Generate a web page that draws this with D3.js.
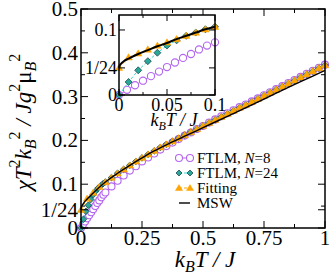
<!DOCTYPE html>
<html>
<head>
<meta charset="utf-8">
<script src="https://cdn.jsdelivr.net/npm/d3@7"></script>
</head>
<body style="margin:0; background:#fff">
<svg width="332" height="277"></svg>
<script>
// ---- main panel data ----
var n8T = [0, 0.0083, 0.0167, 0.025, 0.0333, 0.0417, 0.05, 0.0583, 0.0667, 0.075, 0.0833, 0.0917, 0.1,
           0.125, 0.15, 0.175, 0.2, 0.225, 0.25, 0.275, 0.3, 0.325, 0.35, 0.375, 0.4, 0.425, 0.45, 0.475, 0.5,
           0.525, 0.55, 0.575, 0.6, 0.625, 0.65, 0.675, 0.7, 0.725, 0.75, 0.775, 0.8, 0.825, 0.85, 0.875, 0.9,
           0.925, 0.95, 0.975, 1];
var n8V = [0, 0.008, 0.015, 0.022, 0.029, 0.036, 0.043, 0.050, 0.057, 0.063, 0.070, 0.076, 0.081,
           0.095, 0.108, 0.120, 0.131, 0.141, 0.152, 0.161, 0.170, 0.179, 0.187, 0.195, 0.203, 0.211, 0.218, 0.226, 0.233,
           0.241, 0.248, 0.255, 0.262, 0.269, 0.276, 0.282, 0.289, 0.296, 0.303, 0.310, 0.317, 0.324, 0.331, 0.338, 0.345,
           0.352, 0.359, 0.366, 0.373];

var n24T = [0, 0.01, 0.02, 0.03, 0.04, 0.05, 0.06, 0.07, 0.08, 0.09, 0.1,
            0.125, 0.15, 0.175, 0.2, 0.225, 0.25, 0.275, 0.3, 0.325, 0.35, 0.375, 0.4, 0.425, 0.45, 0.475, 0.5,
            0.525, 0.55, 0.575, 0.6, 0.625, 0.65, 0.675, 0.7, 0.725, 0.75, 0.775, 0.8, 0.825, 0.85, 0.875, 0.9,
            0.925, 0.95, 0.975, 1];
var n24V = [0, 0.020, 0.038, 0.052, 0.065, 0.076, 0.084, 0.091, 0.096, 0.101, 0.105,
            0.115, 0.125, 0.134, 0.143, 0.152, 0.160, 0.168, 0.176, 0.184, 0.191, 0.198, 0.205, 0.212, 0.219, 0.226, 0.233,
            0.240, 0.247, 0.254, 0.261, 0.268, 0.275, 0.281, 0.288, 0.295, 0.302, 0.309, 0.316, 0.323, 0.330, 0.337, 0.344,
            0.351, 0.358, 0.365, 0.372];

var fitT = [0, 0.025, 0.05, 0.075, 0.1, 0.125, 0.15, 0.175, 0.2, 0.225, 0.25, 0.275, 0.3, 0.325, 0.35, 0.375, 0.4,
            0.425, 0.45, 0.475, 0.5, 0.525, 0.55, 0.575, 0.6, 0.625, 0.65, 0.675, 0.7, 0.725, 0.75, 0.775, 0.8,
            0.825, 0.85, 0.875, 0.9, 0.925, 0.95, 0.975, 1];
var fitV = [0.0417, 0.067, 0.081, 0.094, 0.105, 0.115, 0.125, 0.134, 0.143, 0.152, 0.160, 0.168, 0.176, 0.184, 0.191, 0.198, 0.205,
            0.212, 0.219, 0.226, 0.233, 0.240, 0.247, 0.254, 0.261, 0.268, 0.275, 0.281, 0.288, 0.295, 0.302, 0.309, 0.316,
            0.323, 0.330, 0.337, 0.344, 0.351, 0.358, 0.365, 0.372];

var mswT = [0, 0.002, 0.005, 0.01, 0.02, 0.03, 0.05, 0.075, 0.1, 0.15, 0.2, 0.25, 0.3, 0.35, 0.4, 0.45, 0.5, 0.6, 0.7, 0.8, 0.9, 1];
var mswV = [0.0417, 0.048, 0.052, 0.056, 0.063, 0.069, 0.080, 0.093, 0.105, 0.125, 0.143, 0.160, 0.176, 0.190, 0.203, 0.216, 0.229, 0.255, 0.281, 0.308, 0.334, 0.360];

// ---- inset data (kBT/J <= 0.1) ----
var inN8T = [0, 0.0083, 0.0167, 0.025, 0.0333, 0.0417, 0.05, 0.0583, 0.0667, 0.075, 0.0833, 0.0917, 0.1];
var inN8V = [0, 0.008, 0.015, 0.022, 0.029, 0.036, 0.043, 0.050, 0.057, 0.063, 0.070, 0.076, 0.081];
var inT = [0, 0.01, 0.02, 0.03, 0.04, 0.05, 0.06, 0.07, 0.08, 0.09, 0.1];
var inN24V = [0, 0.020, 0.038, 0.052, 0.065, 0.076, 0.084, 0.091, 0.096, 0.101, 0.105];
var inFitV = [0.0417, 0.058, 0.064, 0.070, 0.076, 0.081, 0.086, 0.091, 0.096, 0.101, 0.105];
var inMswT = [0, 0.001, 0.002, 0.005, 0.01, 0.02, 0.03, 0.04, 0.05, 0.06, 0.07, 0.08, 0.09, 0.1];
var inMswV = [0.0417, 0.046, 0.048, 0.052, 0.056, 0.063, 0.069, 0.075, 0.080, 0.086, 0.091, 0.096, 0.101, 0.105];

// ---- ticks ----
var xMajor = [0, 0.25, 0.5, 0.75, 1];
var xLabels = ['0', '0.25', '0.5', '0.75', '1'];
var xMinor = [0.125, 0.375, 0.625, 0.875];
var yMajor = [0, 1/24, 0.1, 0.2, 0.3, 0.4, 0.5];
var yLabels = ['0', '1/24', '0.1', '0.2', '0.3', '0.4', '0.5'];
var yMinor = [0.05, 0.15, 0.25, 0.35, 0.45];
var ixMajor = [0, 0.05, 0.1];
var ixLabels = ['0', '0.05', '0.1'];
var ixMinor = [0.025, 0.075];
var iyMajor = [0, 1/24, 0.1];
var iyLabels = ['0', '1/24', '0.1'];

var legendNames = ['FTLM, ', 'FTLM, ', 'Fitting', 'MSW'];
var legendN = ['8', '24', '', ''];

var cPurple = '#b366f0', cTealFill = '#2aa897', cTealLine = '#3fd8d0', cOrange = '#ffa500';
var FONT = 'Liberation Serif';

var svg = d3.select('svg');

function zip(a, b) { return a.map(function(d, i){ return [d, b[i]]; }); }

function frame(g, x, y, xMaj, xMin, yMaj, yMin, major, minor) {
  var x0 = x.range()[0], x1 = x.range()[1], y0 = y.range()[0], y1 = y.range()[1];
  g.append('rect').attr('x', x0).attr('y', y1).attr('width', x1 - x0).attr('height', y0 - y1)
    .attr('fill', 'none').attr('stroke', '#000').attr('stroke-width', 1.5);
  var ticks = g.append('g').attr('stroke', '#000').attr('stroke-width', 1);
  xMaj.concat(xMin).forEach(function(t, i){
    var len = i < xMaj.length ? major : minor;
    ticks.append('line').attr('x1', x(t)).attr('x2', x(t)).attr('y1', y0).attr('y2', y0 - len);
    ticks.append('line').attr('x1', x(t)).attr('x2', x(t)).attr('y1', y1).attr('y2', y1 + len);
  });
  yMaj.concat(yMin).forEach(function(t, i){
    var len = i < yMaj.length ? major : minor;
    ticks.append('line').attr('y1', y(t)).attr('y2', y(t)).attr('x1', x0).attr('x2', x0 + len);
    ticks.append('line').attr('y1', y(t)).attr('y2', y(t)).attr('x1', x1).attr('x2', x1 - len);
  });
}

function diamond(s) { return 'M0,' + (-s) + 'L' + s + ',0L0,' + s + 'L' + (-s) + ',0Z'; }
function tri(s) { return 'M0,' + (-s) + 'L' + (s * 1.05) + ',' + (s * 0.75) + 'L' + (-s * 1.05) + ',' + (s * 0.75) + 'Z'; }

function series(g, x, y, opt) {
  var pts = zip(opt.t, opt.v);
  var line = d3.line().x(function(d){ return x(d[0]); }).y(function(d){ return y(d[1]); });
  if (opt.curve) line.curve(d3.curveMonotoneX);
  g.append('path').attr('d', line(pts)).attr('fill', 'none')
    .attr('stroke', opt.lc).attr('stroke-width', opt.lw || 1)
    .attr('stroke-dasharray', opt.dash || null);
  if (!opt.mark) return;
  var m = g.append('g');
  pts.forEach(function(d){
    var px = x(d[0]), py = y(d[1]);
    if (opt.mark === 'circle') {
      m.append('circle').attr('cx', px).attr('cy', py).attr('r', opt.ms)
        .attr('fill', '#fff').attr('stroke', cPurple).attr('stroke-width', 1.1);
    } else if (opt.mark === 'diamond') {
      m.append('path').attr('transform', 'translate(' + px + ',' + py + ')').attr('d', diamond(opt.ms))
        .attr('fill', cTealFill).attr('stroke', '#134').attr('stroke-width', 0.7);
    } else {
      m.append('path').attr('transform', 'translate(' + px + ',' + py + ')').attr('d', tri(opt.ms))
        .attr('fill', cOrange).attr('stroke', cOrange).attr('stroke-width', 0.5);
    }
  });
}

function txt(g) { return g.append('text').style('font-family', FONT); }

// ---- main panel ----
var x = d3.scaleLinear().domain([0, 1]).range([81, 325]);
var y = d3.scaleLinear().domain([0, 0.5]).range([228, 9]);
var main = svg.append('g');

series(main, x, y, {t: n8T, v: n8V, lc: cPurple, mark: 'circle', ms: 3.5});
series(main, x, y, {t: n24T, v: n24V, lc: cTealLine, dash: '3,2', mark: 'diamond', ms: 3.3});
series(main, x, y, {t: fitT, v: fitV, lc: cOrange, dash: '3,2', mark: 'tri', ms: 3.6});
series(main, x, y, {t: mswT, v: mswV, lc: '#000', lw: 1.4, curve: true});

frame(main, x, y, xMajor, xMinor, yMajor, yMinor, 7, 4);

main.append('g').selectAll('text').data(xMajor).join('text')
  .style('font-family', FONT)
  .attr('x', function(d){ return x(d); }).attr('y', 245)
  .attr('text-anchor', 'middle').attr('font-size', 21)
  .text(function(d, i){ return xLabels[i]; });
main.append('g').selectAll('text').data(yMajor).join('text')
  .style('font-family', FONT)
  .attr('x', 78).attr('y', function(d){ return y(d) + 7; })
  .attr('text-anchor', 'end').attr('font-size', 21)
  .text(function(d, i){ return yLabels[i]; });

// x label
var xl = txt(main).attr('x', 205).attr('y', 267).attr('text-anchor', 'middle').attr('font-size', 23);
xl.append('tspan').attr('font-style', 'italic').text('k');
xl.append('tspan').attr('font-size', 16).attr('dy', 5).attr('font-style', 'italic').text('B');
xl.append('tspan').attr('dy', -5).attr('font-style', 'italic').text('T / J');

// y label
var yl = txt(main).attr('transform', 'translate(31,122) rotate(-90)')
  .attr('text-anchor', 'middle').attr('font-size', 23);
yl.append('tspan').attr('font-style', 'italic').text('χT');
yl.append('tspan').attr('font-size', 16).attr('dy', -11).text('2');
yl.append('tspan').attr('dy', 11).attr('font-style', 'italic').text('k');
yl.append('tspan').attr('font-size', 16).attr('dy', 5).attr('font-style', 'italic').text('B');
yl.append('tspan').attr('font-size', 16).attr('dy', -16).text('2');
yl.append('tspan').attr('dy', 11).attr('font-style', 'italic').text(' / Jg');
yl.append('tspan').attr('font-size', 16).attr('dy', -11).text('2');
yl.append('tspan').attr('dy', 11).text('μ');
yl.append('tspan').attr('font-size', 16).attr('dy', 5).attr('font-style', 'italic').text('B');
yl.append('tspan').attr('font-size', 16).attr('dy', -16).text('2');

// legend
var leg = main.append('g');
var legY = [158, 173, 188, 203];
var legOpts = [
  {lc: cPurple, mark: 'circle', ms: 3.5},
  {lc: cTealLine, dash: '3,2', mark: 'diamond', ms: 3},
  {lc: cOrange, dash: '3,2', mark: 'tri', ms: 3.4},
  {lc: '#000', lw: 1.4}
];
legY.forEach(function(ly, i){
  var o = legOpts[i];
  var ls = d3.scaleLinear().domain([0, 1]).range([179, 190]);
  var lyS = d3.scaleLinear().domain([0, 1]).range([ly, ly]);
  series(leg, ls, lyS, {t: [0, 1], v: [0, 0], lc: o.lc, lw: o.lw, dash: o.dash, mark: o.mark, ms: o.ms});
  var tx = txt(leg).attr('x', 197).attr('y', ly + 5).attr('font-size', 15).text(legendNames[i]);
  if (legendN[i]) {
    tx.append('tspan').attr('font-style', 'italic').text('N');
    tx.append('tspan').text('=' + legendN[i]);
  }
});

// ---- inset ----
var xi = d3.scaleLinear().domain([0, 0.1]).range([119, 215]);
var yi = d3.scaleLinear().domain([0, 0.123]).range([95, 15]);
var ins = svg.append('g');
ins.append('rect').attr('x', 119).attr('y', 15).attr('width', 96).attr('height', 80).attr('fill', '#fff');

series(ins, xi, yi, {t: inN8T, v: inN8V, lc: cPurple, mark: 'circle', ms: 3.6});
series(ins, xi, yi, {t: inT, v: inN24V, lc: cTealLine, dash: '3,2', mark: 'diamond', ms: 3.5});
series(ins, xi, yi, {t: inT, v: inFitV, lc: cOrange, dash: '3,2', mark: 'tri', ms: 3.6});
series(ins, xi, yi, {t: inMswT, v: inMswV, lc: '#000', lw: 2, curve: true});

frame(ins, xi, yi, ixMajor, ixMinor, iyMajor, [], 6, 3);

ins.append('g').selectAll('text').data(ixMajor).join('text')
  .style('font-family', FONT)
  .attr('x', function(d){ return xi(d); }).attr('y', 111)
  .attr('text-anchor', 'middle').attr('font-size', 18)
  .text(function(d, i){ return ixLabels[i]; });
ins.append('g').selectAll('text').data(iyMajor).join('text')
  .style('font-family', FONT)
  .attr('x', 117).attr('y', function(d){ return yi(d) + 6; })
  .attr('text-anchor', 'end').attr('font-size', 18)
  .text(function(d, i){ return iyLabels[i]; });

var ixl = txt(ins).attr('x', 174).attr('y', 126).attr('text-anchor', 'middle').attr('font-size', 18);
ixl.append('tspan').attr('font-style', 'italic').text('k');
ixl.append('tspan').attr('font-size', 12).attr('dy', 4).attr('font-style', 'italic').text('B');
ixl.append('tspan').attr('dy', -4).attr('font-style', 'italic').text('T / J');
</script>
</body>
</html>
